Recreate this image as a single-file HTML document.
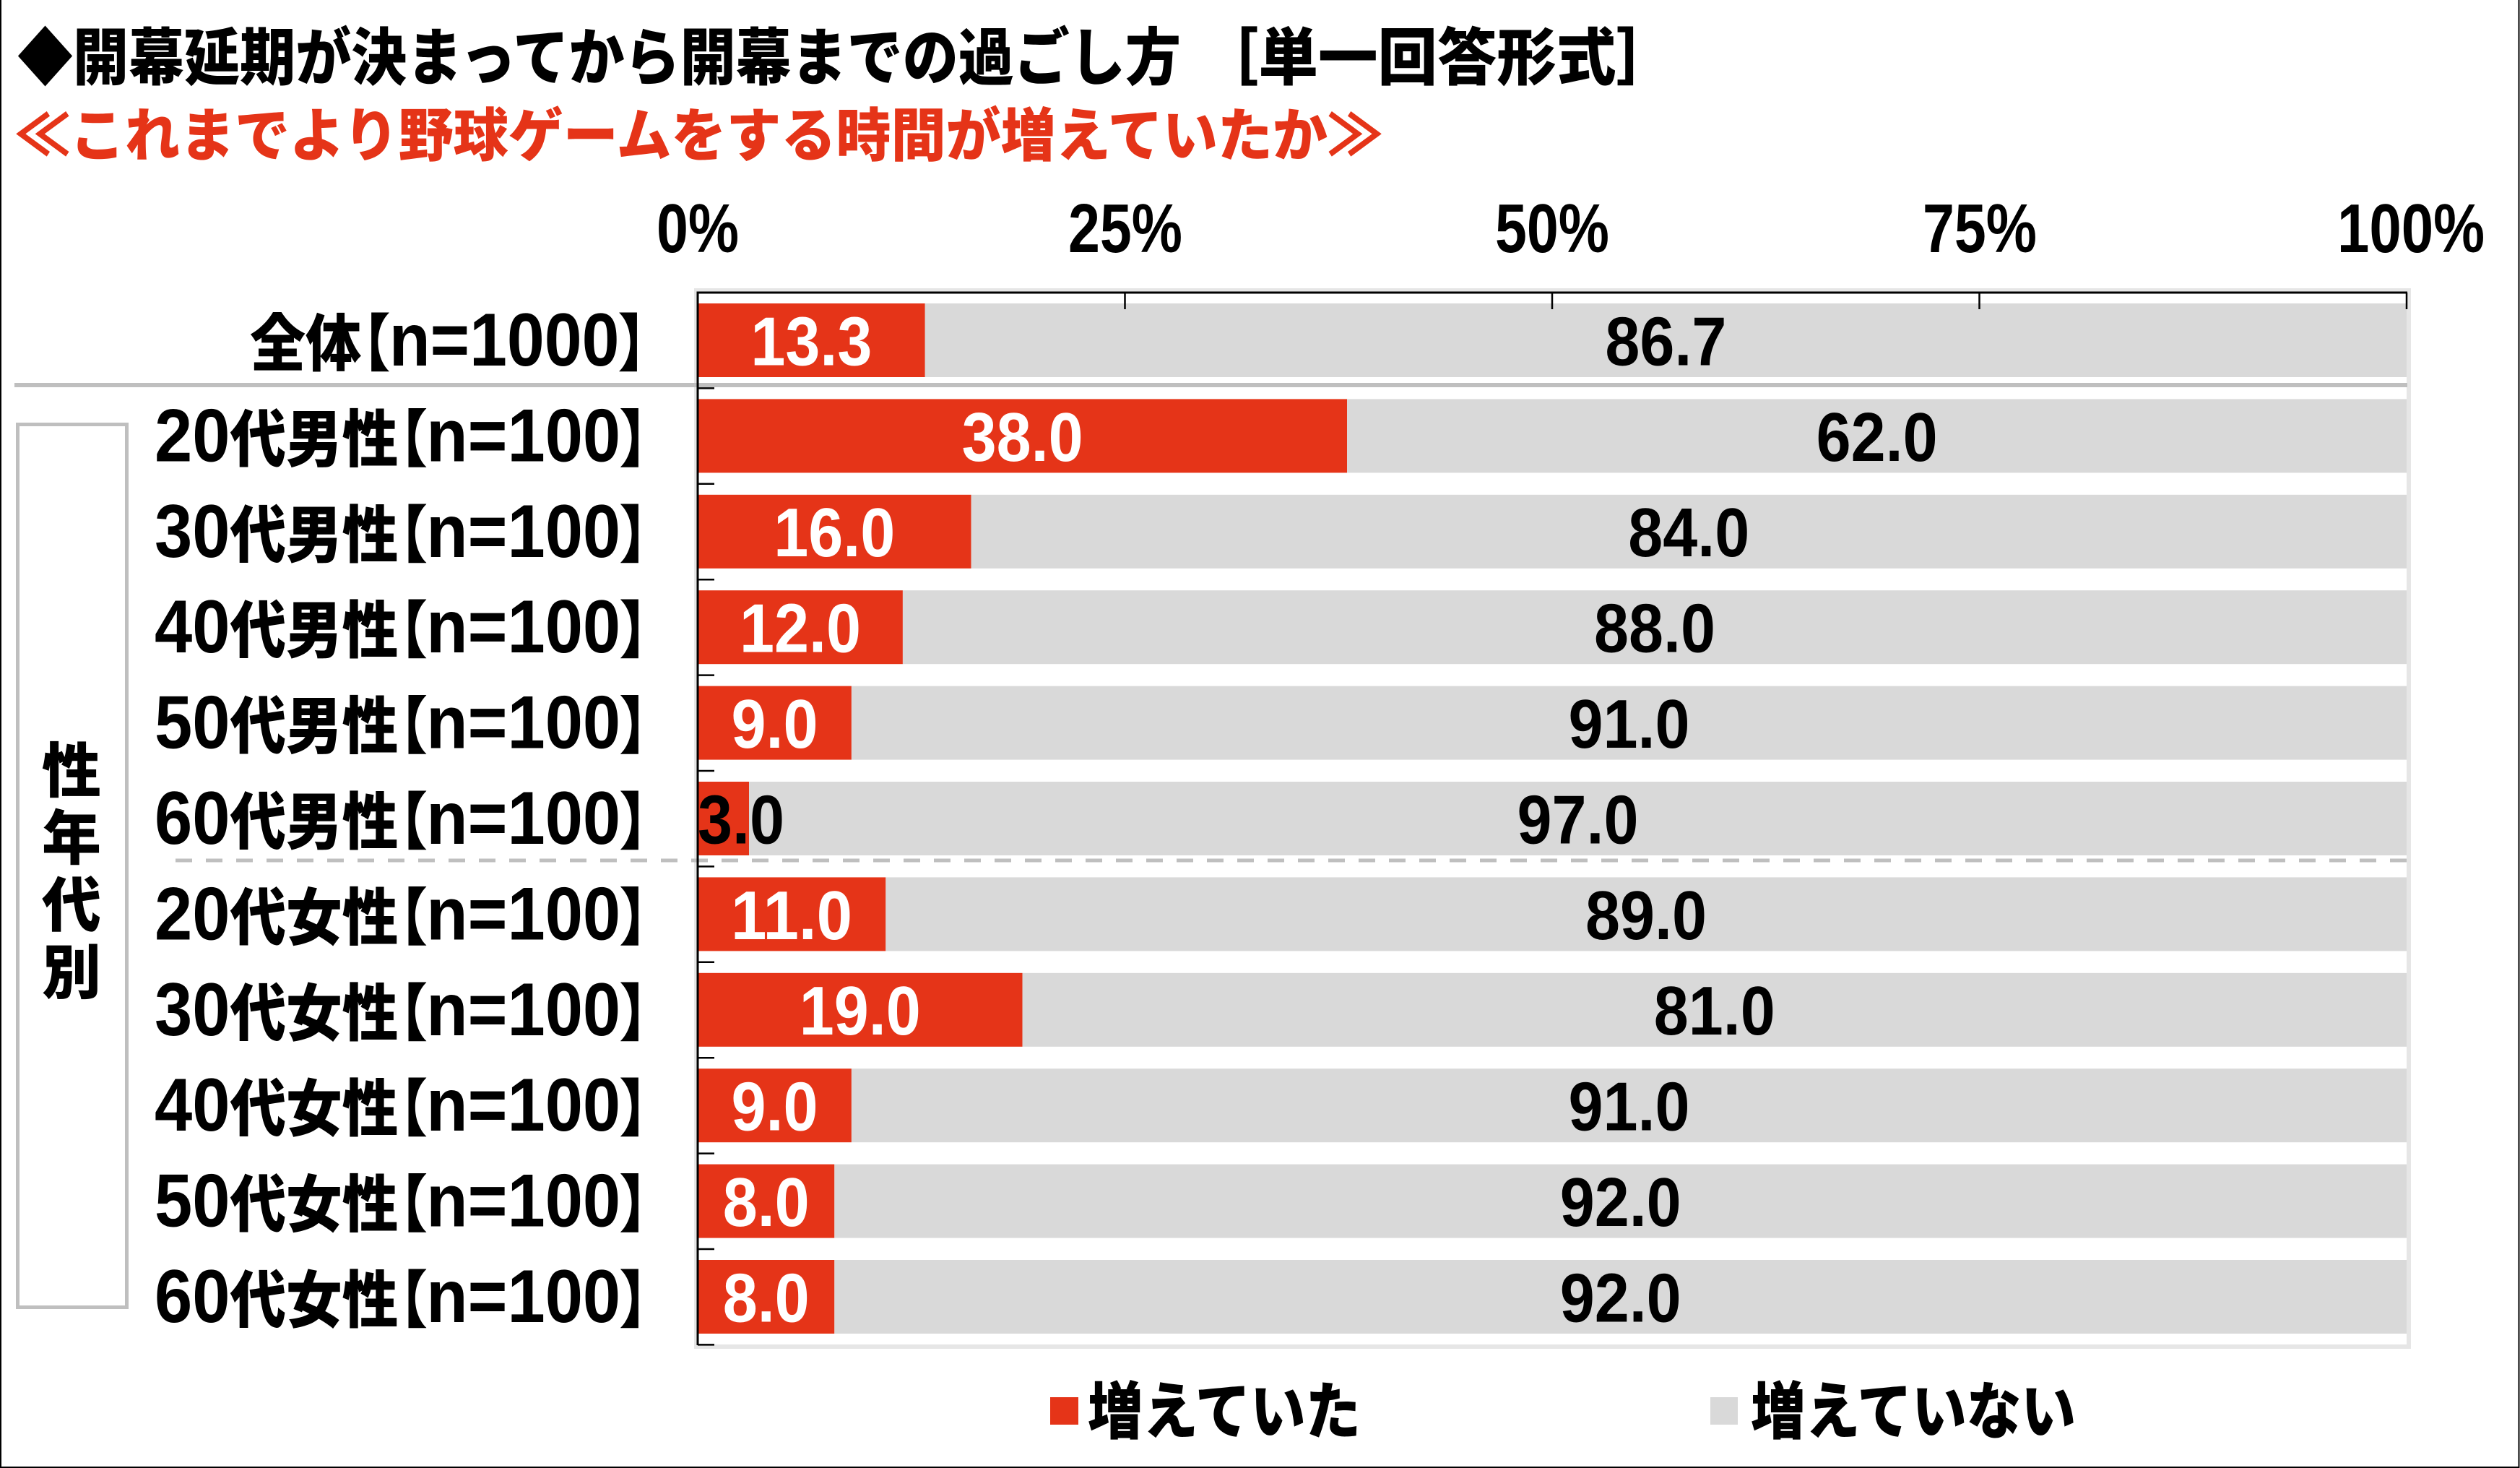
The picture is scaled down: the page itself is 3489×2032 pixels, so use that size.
<!DOCTYPE html>
<html lang="ja">
<head>
<meta charset="utf-8">
<title>開幕延期が決まってから開幕までの過ごし方</title>
<style>
  html, body { margin: 0; padding: 0; background: #ffffff; }
  body { width: 3489px; height: 2032px; overflow: hidden; }
  svg { display: block; }
  .jp { font-family: "Liberation Sans", "Noto Sans CJK JP", sans-serif; font-weight: 900; }
  .cjk { font-family: "Noto Sans CJK JP", "Liberation Sans", sans-serif; font-weight: 900; }
  .num { font-family: "Liberation Sans", "Noto Sans CJK JP", sans-serif; font-weight: 700; }
  .palt { font-feature-settings: "palt" 1; }
</style>
</head>
<body>
<svg width="3489" height="2032" viewBox="0 0 3489 2032" xmlns="http://www.w3.org/2000/svg">
  <rect x="0" y="0" width="3489" height="2032" fill="#ffffff"/>
  <!-- image frame (left, bottom, right) -->
  <path d="M1,0 V2031 H3487.5 V0" fill="none" stroke="#000" stroke-width="2"/>

  <!-- Title -->
  <text class="cjk" x="24" y="110" font-size="86" fill="#000" textLength="1611" lengthAdjust="spacingAndGlyphs">◆開幕延期が決まってから開幕までの過ごし方</text>
  <text class="cjk" x="1660" y="110" font-size="86" fill="#000" textLength="660" lengthAdjust="spacingAndGlyphs">［単一回答形式］</text>
  <!-- Subtitle -->
  <text class="cjk" x="21" y="216" font-size="80" fill="#e53418" textLength="1893" lengthAdjust="spacingAndGlyphs">≪これまでより野球ゲームをする時間が増えていたか≫</text>

  <!-- Axis labels -->
  <g class="num" font-size="96" fill="#000">
    <text x="909" y="349" textLength="114" lengthAdjust="spacingAndGlyphs">0%</text>
    <text x="1479" y="349" textLength="158" lengthAdjust="spacingAndGlyphs">25%</text>
    <text x="2070" y="349" textLength="158" lengthAdjust="spacingAndGlyphs">50%</text>
    <text x="2662" y="349" textLength="158" lengthAdjust="spacingAndGlyphs">75%</text>
    <text x="3236" y="349" textLength="204" lengthAdjust="spacingAndGlyphs">100%</text>
  </g>

  <!-- plot area outline -->
  <rect x="964" y="402" width="2371" height="1462" fill="#ffffff" stroke="#e6e6e6" stroke-width="6"/>

  <!-- Bars: red series -->
  <g fill="#e53418">
    <rect x="966" y="420" width="314.7" height="102"/>
    <rect x="966" y="552.4" width="899.1" height="102"/>
    <rect x="966" y="684.8" width="378.6" height="102"/>
    <rect x="966" y="817.2" width="283.9" height="102"/>
    <rect x="966" y="949.6" width="212.9" height="102"/>
    <rect x="966" y="1082" width="71" height="102"/>
    <rect x="966" y="1214.4" width="260.3" height="102"/>
    <rect x="966" y="1346.8" width="449.5" height="102"/>
    <rect x="966" y="1479.2" width="212.9" height="102"/>
    <rect x="966" y="1611.6" width="189.3" height="102"/>
    <rect x="966" y="1744" width="189.3" height="102"/>
  </g>
  <!-- Bars: gray series -->
  <g fill="#d9d9d9">
    <rect x="1280.7" y="420" width="2051.3" height="102"/>
    <rect x="1865.1" y="552.4" width="1466.9" height="102"/>
    <rect x="1344.6" y="684.8" width="1987.4" height="102"/>
    <rect x="1249.9" y="817.2" width="2082.1" height="102"/>
    <rect x="1178.9" y="949.6" width="2153.1" height="102"/>
    <rect x="1037" y="1082" width="2295" height="102"/>
    <rect x="1226.3" y="1214.4" width="2105.7" height="102"/>
    <rect x="1415.5" y="1346.8" width="1916.5" height="102"/>
    <rect x="1178.9" y="1479.2" width="2153.1" height="102"/>
    <rect x="1155.3" y="1611.6" width="2176.7" height="102"/>
    <rect x="1155.3" y="1744" width="2176.7" height="102"/>
  </g>

  <!-- separator under 全体 -->
  <rect x="20" y="530" width="3313" height="6" fill="#bfbfbf"/>
  <!-- dashed separator between male / female -->
  <line x1="243" y1="1191" x2="3332" y2="1191" stroke="#bfbfbf" stroke-width="5" stroke-dasharray="23 19"/>

  <!-- axes -->
  <line x1="966" y1="403.5" x2="966" y2="1862" stroke="#000" stroke-width="3"/>
  <line x1="964.5" y1="405" x2="3333" y2="405" stroke="#000" stroke-width="3"/>
  <g stroke="#000" stroke-width="2.5">
    <line x1="1557.5" y1="405" x2="1557.5" y2="428"/>
    <line x1="2149" y1="405" x2="2149" y2="428"/>
    <line x1="2740.5" y1="405" x2="2740.5" y2="428"/>
    <line x1="3332" y1="405" x2="3332" y2="428"/>
    <line x1="966" y1="537.4" x2="989" y2="537.4"/>
    <line x1="966" y1="669.8" x2="989" y2="669.8"/>
    <line x1="966" y1="802.2" x2="989" y2="802.2"/>
    <line x1="966" y1="934.6" x2="989" y2="934.6"/>
    <line x1="966" y1="1067" x2="989" y2="1067"/>
    <line x1="966" y1="1199.4" x2="989" y2="1199.4"/>
    <line x1="966" y1="1331.8" x2="989" y2="1331.8"/>
    <line x1="966" y1="1464.2" x2="989" y2="1464.2"/>
    <line x1="966" y1="1596.6" x2="989" y2="1596.6"/>
    <line x1="966" y1="1729" x2="989" y2="1729"/>
    <line x1="966" y1="1861.4" x2="989" y2="1861.4"/>
  </g>

  <!-- Value labels -->
  <g class="num" font-size="96">
    <text x="1039.4" y="505.4" fill="#fff" textLength="168" lengthAdjust="spacingAndGlyphs">13.3</text>
    <text x="2222.4" y="505.4" fill="#000" textLength="168" lengthAdjust="spacingAndGlyphs">86.7</text>

    <text x="1331.6" y="637.8" fill="#fff" textLength="168" lengthAdjust="spacingAndGlyphs">38.0</text>
    <text x="2514.6" y="637.8" fill="#000" textLength="168" lengthAdjust="spacingAndGlyphs">62.0</text>

    <text x="1071.3" y="770.2" fill="#fff" textLength="168" lengthAdjust="spacingAndGlyphs">16.0</text>
    <text x="2254.3" y="770.2" fill="#000" textLength="168" lengthAdjust="spacingAndGlyphs">84.0</text>

    <text x="1024" y="902.6" fill="#fff" textLength="168" lengthAdjust="spacingAndGlyphs">12.0</text>
    <text x="2207" y="902.6" fill="#000" textLength="168" lengthAdjust="spacingAndGlyphs">88.0</text>

    <text x="1012.5" y="1035" fill="#fff" textLength="120" lengthAdjust="spacingAndGlyphs">9.0</text>
    <text x="2171.5" y="1035" fill="#000" textLength="168" lengthAdjust="spacingAndGlyphs">91.0</text>

    <text x="966" y="1167.4" fill="#000" textLength="120" lengthAdjust="spacingAndGlyphs">3.0</text>
    <text x="2100.5" y="1167.4" fill="#000" textLength="168" lengthAdjust="spacingAndGlyphs">97.0</text>

    <text x="1012" y="1299.8" fill="#fff" textLength="168" lengthAdjust="spacingAndGlyphs">11.0</text>
    <text x="2195" y="1299.8" fill="#000" textLength="168" lengthAdjust="spacingAndGlyphs">89.0</text>

    <text x="1106.8" y="1432.2" fill="#fff" textLength="168" lengthAdjust="spacingAndGlyphs">19.0</text>
    <text x="2289.8" y="1432.2" fill="#000" textLength="168" lengthAdjust="spacingAndGlyphs">81.0</text>

    <text x="1012.5" y="1564.6" fill="#fff" textLength="120" lengthAdjust="spacingAndGlyphs">9.0</text>
    <text x="2171.5" y="1564.6" fill="#000" textLength="168" lengthAdjust="spacingAndGlyphs">91.0</text>

    <text x="1000.7" y="1697" fill="#fff" textLength="120" lengthAdjust="spacingAndGlyphs">8.0</text>
    <text x="2159.7" y="1697" fill="#000" textLength="168" lengthAdjust="spacingAndGlyphs">92.0</text>

    <text x="1000.7" y="1829.4" fill="#fff" textLength="120" lengthAdjust="spacingAndGlyphs">8.0</text>
    <text x="2159.7" y="1829.4" fill="#000" textLength="168" lengthAdjust="spacingAndGlyphs">92.0</text>
  </g>

  <!-- Category labels -->
  <g fill="#000">
    <text x="346" y="506" textLength="550" lengthAdjust="spacingAndGlyphs"><tspan class="cjk palt" font-size="86">全体【</tspan><tspan class="num" font-size="104">n=1000</tspan><tspan class="cjk palt" font-size="86">】</tspan></text>

    <text x="214" y="638.4" textLength="684" lengthAdjust="spacingAndGlyphs"><tspan class="num" font-size="104">20</tspan><tspan class="cjk palt" font-size="86">代男性【</tspan><tspan class="num" font-size="104">n=100</tspan><tspan class="cjk palt" font-size="86">】</tspan></text>
    <text x="214" y="770.8" textLength="684" lengthAdjust="spacingAndGlyphs"><tspan class="num" font-size="104">30</tspan><tspan class="cjk palt" font-size="86">代男性【</tspan><tspan class="num" font-size="104">n=100</tspan><tspan class="cjk palt" font-size="86">】</tspan></text>
    <text x="214" y="903.2" textLength="684" lengthAdjust="spacingAndGlyphs"><tspan class="num" font-size="104">40</tspan><tspan class="cjk palt" font-size="86">代男性【</tspan><tspan class="num" font-size="104">n=100</tspan><tspan class="cjk palt" font-size="86">】</tspan></text>
    <text x="214" y="1035.6" textLength="684" lengthAdjust="spacingAndGlyphs"><tspan class="num" font-size="104">50</tspan><tspan class="cjk palt" font-size="86">代男性【</tspan><tspan class="num" font-size="104">n=100</tspan><tspan class="cjk palt" font-size="86">】</tspan></text>
    <text x="214" y="1168" textLength="684" lengthAdjust="spacingAndGlyphs"><tspan class="num" font-size="104">60</tspan><tspan class="cjk palt" font-size="86">代男性【</tspan><tspan class="num" font-size="104">n=100</tspan><tspan class="cjk palt" font-size="86">】</tspan></text>

    <text x="214" y="1300.4" textLength="684" lengthAdjust="spacingAndGlyphs"><tspan class="num" font-size="104">20</tspan><tspan class="cjk palt" font-size="86">代女性【</tspan><tspan class="num" font-size="104">n=100</tspan><tspan class="cjk palt" font-size="86">】</tspan></text>
    <text x="214" y="1432.8" textLength="684" lengthAdjust="spacingAndGlyphs"><tspan class="num" font-size="104">30</tspan><tspan class="cjk palt" font-size="86">代女性【</tspan><tspan class="num" font-size="104">n=100</tspan><tspan class="cjk palt" font-size="86">】</tspan></text>
    <text x="214" y="1565.2" textLength="684" lengthAdjust="spacingAndGlyphs"><tspan class="num" font-size="104">40</tspan><tspan class="cjk palt" font-size="86">代女性【</tspan><tspan class="num" font-size="104">n=100</tspan><tspan class="cjk palt" font-size="86">】</tspan></text>
    <text x="214" y="1697.6" textLength="684" lengthAdjust="spacingAndGlyphs"><tspan class="num" font-size="104">50</tspan><tspan class="cjk palt" font-size="86">代女性【</tspan><tspan class="num" font-size="104">n=100</tspan><tspan class="cjk palt" font-size="86">】</tspan></text>
    <text x="214" y="1830" textLength="684" lengthAdjust="spacingAndGlyphs"><tspan class="num" font-size="104">60</tspan><tspan class="cjk palt" font-size="86">代女性【</tspan><tspan class="num" font-size="104">n=100</tspan><tspan class="cjk palt" font-size="86">】</tspan></text>
  </g>

  <!-- group bracket box with vertical label -->
  <rect x="24.5" y="587.5" width="151" height="1222" fill="none" stroke="#bfbfbf" stroke-width="5"/>
  <g class="cjk" font-size="82" fill="#000" text-anchor="middle">
    <text x="99" y="1096">性</text>
    <text x="99" y="1189">年</text>
    <text x="99" y="1282">代</text>
    <text x="99" y="1375">別</text>
  </g>

  <!-- Legend -->
  <rect x="1454" y="1934" width="39" height="38" fill="#e53418"/>
  <text class="cjk" x="1506" y="1984" font-size="86" fill="#000" textLength="378" lengthAdjust="spacingAndGlyphs">増えていた</text>
  <rect x="2368" y="1934" width="38" height="38" fill="#d9d9d9"/>
  <text class="cjk" x="2424" y="1984" font-size="86" fill="#000" textLength="450" lengthAdjust="spacingAndGlyphs">増えていない</text>
</svg>
</body>
</html>
